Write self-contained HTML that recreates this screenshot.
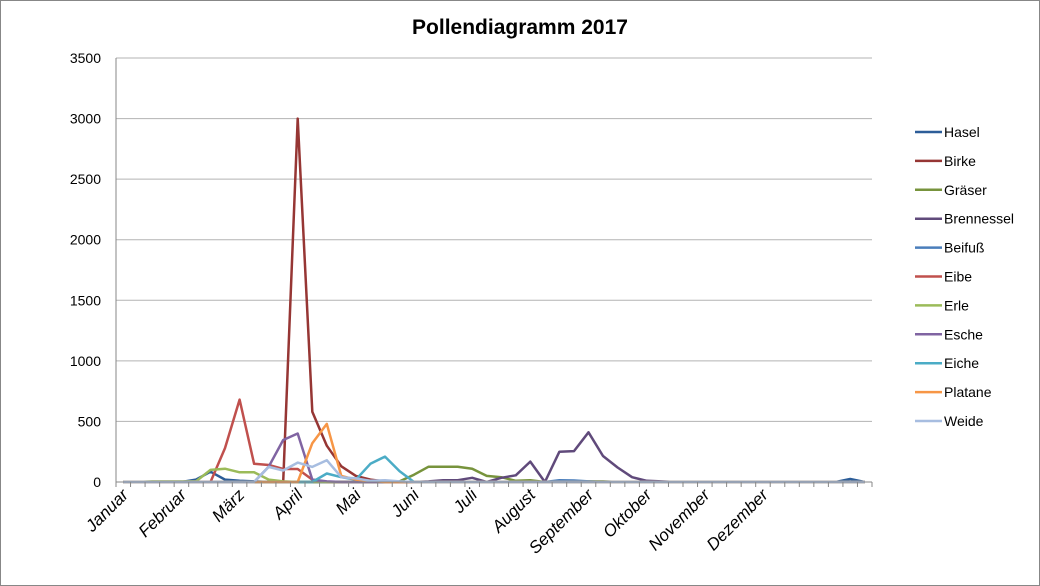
<!DOCTYPE html>
<html><head><meta charset="utf-8">
<style>
html,body{margin:0;padding:0;background:#fff;}
svg{display:block;font-family:"Liberation Sans",Arial,sans-serif;}
</style></head>
<body>
<svg id="chart" width="1040" height="586" viewBox="0 0 1040 586">
<rect x="0.5" y="0.5" width="1039" height="585" fill="#fff" stroke="#878787"/>
<text x="520" y="34" text-anchor="middle" font-size="21" font-weight="bold" fill="#000">Pollendiagramm 2017</text>
<g id="grid"></g><g id="series"></g><g id="axes"></g><g id="legend"></g>
</svg>
<script>
const months = ["Januar","Februar","März","April","Mai","Juni","Juli","August","September","Oktober","November","Dezember"];
const yTicks = [0,500,1000,1500,2000,2500,3000,3500];
const seriesNames = ["Hasel","Birke","Gräser","Brennessel","Beifuß","Eibe","Erle","Esche","Eiche","Platane","Weide"];
const seriesColors = ["#2c5d98","#963634","#77933c","#604a7b","#4a7ebb","#c0504d","#9bbb59","#8064a2","#4bacc6","#f79646","#a7bde0"];
const hasel = [0,0,0,0,0,20,85,20,10,5,0,0,0,0,0,0,0,0,0,0,0,0,0,0,0,0,0,0,0,0,0,0,0,0,0,0,0,0,0,0,0,0,0,0,0,0,0,0,0,0,25,0];
const birke = [0,0,0,0,0,0,0,0,0,0,0,0,3000,580,300,130,50,20,5,0,0,0,0,0,0,0,0,0,0,0,0,0,0,0,0,0,0,0,0,0,0,0,0,0,0,0,0,0,0,0,0,0];
const graeser = [0,0,0,0,0,0,0,0,0,0,0,0,0,0,0,0,0,0,0,5,60,126,126,126,110,50,40,10,15,0,0,0,5,5,0,0,0,0,0,0,0,0,0,0,0,0,0,0,0,0,0,0];
const brennessel = [0,0,0,0,0,0,0,0,0,0,0,0,0,0,0,0,0,0,0,0,0,5,15,15,35,0,35,55,168,0,250,255,410,215,120,40,10,5,0,0,0,0,0,0,0,0,0,0,0,0,0,0];
const beifuss = [0,0,0,0,0,0,0,0,0,0,0,0,0,0,0,0,0,0,0,0,0,0,0,0,0,0,0,0,0,0,15,12,5,0,0,0,0,0,0,0,0,0,0,0,0,0,0,0,0,0,0,0];
const eibe = [0,0,0,0,0,0,0,280,680,150,140,107,107,20,0,0,0,0,0,0,0,0,0,0,0,0,0,0,0,0,0,0,0,0,0,0,0,0,0,0,0,0,0,0,0,0,0,0,0,0,0,0];
const erle = [0,0,5,5,5,5,100,110,80,80,20,5,0,0,0,0,0,0,0,0,0,0,0,0,0,0,0,0,0,0,0,0,0,0,0,0,0,0,0,0,0,0,0,0,0,0,0,0,0,0,0,0];
const esche = [0,0,0,0,0,0,0,0,0,0,126,347,400,20,5,0,0,0,0,0,0,0,0,0,0,0,0,0,0,0,0,0,0,0,0,0,0,0,0,0,0,0,0,0,0,0,0,0,0,0,0,0];
const eiche = [0,0,0,0,0,0,0,0,0,0,0,0,0,0,70,40,20,150,210,90,0,0,0,0,0,0,0,0,0,0,0,0,0,0,0,0,0,0,0,0,0,0,0,0,0,0,0,0,0,0,0,0];
const platane = [0,0,0,0,0,0,0,0,0,0,0,0,0,320,480,50,20,10,0,0,0,0,0,0,0,0,0,0,0,0,0,0,0,0,0,0,0,0,0,0,0,0,0,0,0,0,0,0,0,0,0,0];
const weide = [0,0,0,0,0,0,0,0,0,0,125,95,160,125,180,40,30,10,15,5,0,0,0,0,0,0,0,0,0,0,0,0,0,0,0,0,0,0,0,0,0,0,0,0,0,0,0,0,0,0,0,0];
const seriesData = [hasel,birke,graeser,brennessel,beifuss,eibe,erle,esche,eiche,platane,weide];

const NS="http://www.w3.org/2000/svg";
const X0=116,X1=872,Y0=482,Y1=58,N=52,YMAX=3500;
const cw=(X1-X0)/N;
const xPos=i=>X0+(i+0.5)*cw;
const yPos=v=>Y0-(v/YMAX)*(Y0-Y1);
function mk(tag,attrs,parent){const e=document.createElementNS(NS,tag);for(const k in attrs)e.setAttribute(k,attrs[k]);parent.appendChild(e);return e;}
const grid=document.getElementById('grid'),axes=document.getElementById('axes'),ser=document.getElementById('series'),leg=document.getElementById('legend');
yTicks.forEach(t=>{
  const y=yPos(t);
  if(t>0){const l=mk('line',{x1:X0,x2:X1,y1:y,y2:y,stroke:'#b3b3b3','stroke-width':1},grid);
  
  }
  const tx=mk('text',{x:101,y:y+5,'text-anchor':'end','font-size':14,fill:'#000'},axes);
  tx.textContent=t;
  
  
});
const ya=mk('line',{x1:X0,x2:X0,y1:Y1,y2:Y0,stroke:'#878787'},axes);


const xa=mk('line',{x1:X0,x2:X1,y1:Y0,y2:Y0,stroke:'#878787'},axes);


for(let i=0;i<=N;i++){const x=X0+i*cw;const t=mk('line',{x1:x,x2:x,y1:Y0,y2:Y0+5,stroke:'#878787'},axes);

}
months.forEach((m,k)=>{
  const x=xPos(k*4)+6,y=Y0+14;
  const tx=mk('text',{x:x,y:y,'text-anchor':'end','font-size':17,'font-style':'italic',fill:'#000',transform:`rotate(-45 ${x} ${y})`},axes);
  tx.textContent=m;
  
  
});
seriesData.forEach((d,s)=>{
  const pts=d.map((v,i)=>xPos(i).toFixed(1)+','+yPos(v).toFixed(1)).join(' ');
  const p=mk('polyline',{points:pts,fill:'none',stroke:seriesColors[s],'stroke-width':2.5,'stroke-linejoin':'round'},ser);
  
  
  const y=132+s*28.9;
  const g=mk('g',{},leg);
  
  
  mk('line',{x1:915,x2:942,y1:y,y2:y,stroke:seriesColors[s],'stroke-width':2.5},g);
  const tx=mk('text',{x:944,y:y+5,'font-size':14,fill:'#000'},g);
  tx.textContent=seriesNames[s];
});
</script>
</body></html>
